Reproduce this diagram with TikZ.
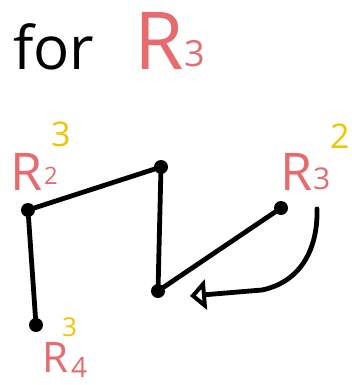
\documentclass[tikz,border=0pt]{standalone}
\usepackage{fontspec}
\setmainfont{Open Sans}
\usetikzlibrary{arrows.meta}
\definecolor{penred}{RGB}{229,107,111}
\definecolor{penyellow}{RGB}{242,196,0}
\tikzset{
  pt/.style={circle,fill=black,inner sep=0pt,minimum size=14pt},
  stroke/.style={line width=4.8pt,line cap=round,line join=round},
  txt/.style={inner sep=0pt,anchor=base west},
}
\newcommand{\fs}[1]{\fontsize{#1}{#1}\selectfont}
\begin{document}
\begin{tikzpicture}[x=1pt,y=-1pt]
\useasboundingbox (0,0) rectangle (352,385);
% title
\node[txt] (ttl) at (13,70) {\fs{60}for};
\node[txt,text=penred] (ttlR) at (134,70) {\fs{80}R};
\node[txt,text=penred] (ttlsub) at (184,67) {\fs{36}3};
% points
\node[pt] (a) at (28,210) {};
\node[pt] (b) at (161,167) {};
\node[pt] (c) at (158,291) {};
\node[pt] (d) at (281,208) {};
\node[pt] (e) at (36,325) {};
\draw[stroke] (e) -- (a) -- (b) -- (c) -- (d);
% labels
\node[txt,text=penred] (lR2) at (10,190) {\fs{52}R};
\node[txt,text=penred] (lR2s) at (44,184) {\fs{24}2};
\node[txt,text=penyellow] (lR2u) at (51,146) {\fs{34}3};
\node[txt,text=penred] (lR3) at (280,190) {\fs{52}R};
\node[txt,text=penred] (lR3s) at (313,189) {\fs{30}3};
\node[txt,text=penyellow] (lR3u) at (330,148) {\fs{34}2};
\node[txt,text=penred] (lR4) at (42,372) {\fs{42}R};
\node[txt,text=penred] (lR4s) at (71,377) {\fs{28}4};
\node[txt,text=penyellow] (lR4u) at (62,336) {\fs{26}3};
% rotation arrow
\coordinate (from) at (317,209);
\coordinate (to) at (190,296);
\draw[stroke,-{Triangle[open,length=16pt,width=30pt]}] (from) .. controls (318,250) and (300,282) .. (262,290) -- (to);
\end{tikzpicture}
\end{document}
